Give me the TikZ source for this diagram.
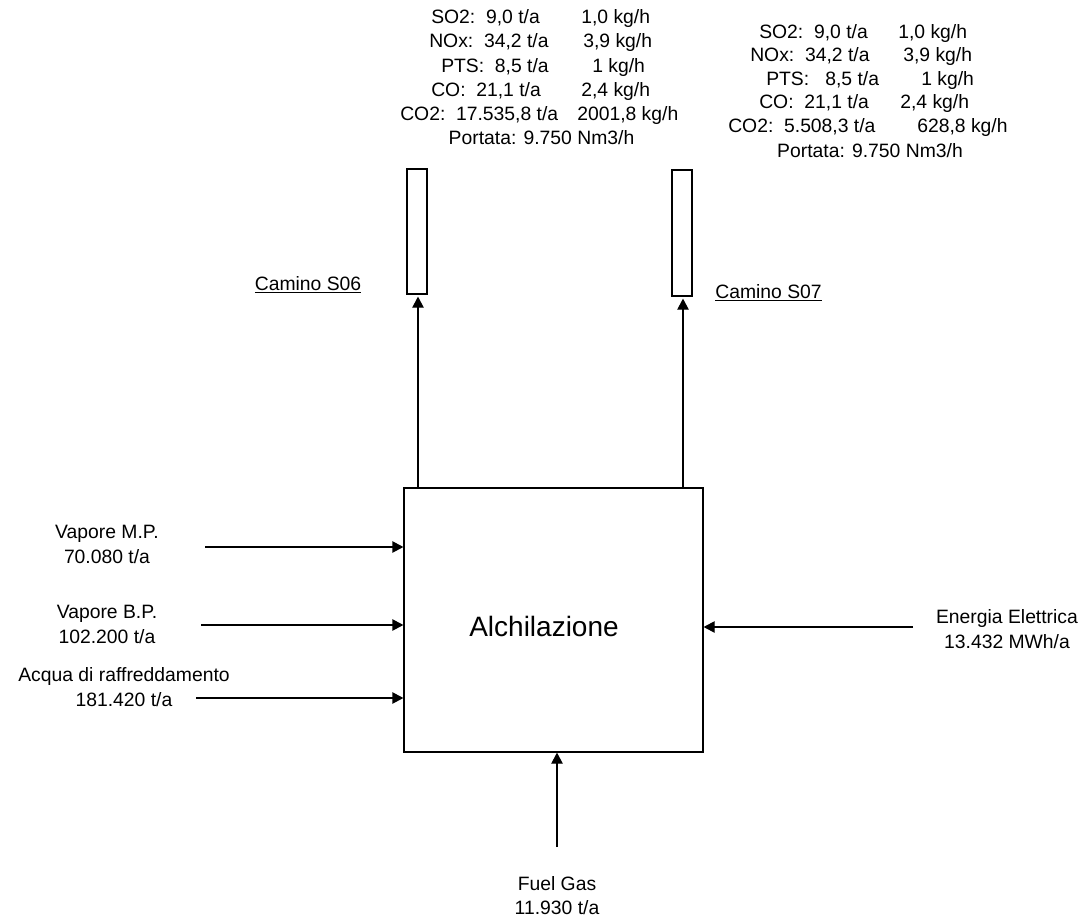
\documentclass[tikz,border=0pt]{standalone}
\usepackage{fontspec}
\setmainfont{Liberation Sans}
\usetikzlibrary{arrows.meta}
\begin{document}
\begin{tikzpicture}[x=0.75pt,y=-0.75pt,
  txt/.style={font=\fontsize{14.5}{18.2}\selectfont, inner sep=0pt},
  lw/.style={txt, anchor=base west},
  lc/.style={txt, anchor=base},
  boxst/.style={draw, line width=0.9pt, inner sep=0pt},
  arr/.style={line width=0.9pt, -{Triangle[length=8.25pt,width=8.5pt]}}]
\useasboundingbox (0,0) rectangle (1086,920);

% main box
\node[boxst, minimum width=224.25pt, minimum height=198pt] (alk) at (553.5,620) {};
\node[font=\fontsize{21}{25}\selectfont, inner sep=0pt] (alktxt) at (544,626) {Alchilazione};

% stacks
\node[boxst, minimum width=15pt, minimum height=93.75pt] (s06) at (417,231.5) {};
\node[boxst, minimum width=15pt, minimum height=94.5pt] (s07) at (682,233) {};
\node[txt] (c06) at (308,285) {\underline{Camino S06}};
\node[txt] (c07) at (768.5,293) {\underline{Camino S07}};

\coordinate (a06) at (418,488);
\coordinate (a07) at (683,488);
\draw[arr, shorten >=1.5pt] (a06) -- (a06 |- s06.south);
\draw[arr, shorten >=1.5pt] (a07) -- (a07 |- s07.south);

% emissions S06
\node[lw] (b1l1) at (431,24) {SO2:\ \ 9,0 t/a};
\node[lw] (b1r1) at (581,24) {1,0 kg/h};
\node[lw] (b1l2) at (429,48) {NOx:\ \ 34,2 t/a};
\node[lw] (b1r2) at (583,48) {3,9 kg/h};
\node[lw] (b1l3) at (441,73) {PTS:\ \ 8,5 t/a};
\node[lw] (b1r3) at (592,73) {1 kg/h};
\node[lw] (b1l4) at (431,97) {CO:\ \ 21,1 t/a};
\node[lw] (b1r4) at (581,97) {2,4 kg/h};
\node[lw] (b1l5) at (400,121) {CO2:\ \ 17.535,8 t/a};
\node[lw] (b1r5) at (577,121) {2001,8 kg/h};
\node[lc] (b1p) at (541.5,145) {Portata: 9.750 Nm3/h};

% emissions S07
\node[lw] (b2l1) at (759,39) {SO2:\ \ 9,0 t/a};
\node[lw] (b2r1) at (898,39) {1,0 kg/h};
\node[lw] (b2l2) at (750,62) {NOx:\ \ 34,2 t/a};
\node[lw] (b2r2) at (903,62) {3,9 kg/h};
\node[lw] (b2l3) at (766,86) {PTS:\ \ \ 8,5 t/a};
\node[lw] (b2r3) at (921,86) {1 kg/h};
\node[lw] (b2l4) at (759,109) {CO:\ \ 21,1 t/a};
\node[lw] (b2r4) at (900,109) {2,4 kg/h};
\node[lw] (b2l5) at (728,133) {CO2:\ \ 5.508,3 t/a};
\node[lw] (b2r5) at (917,133) {628,8 kg/h};
\node[lc] (b2p) at (870,158) {Portata: 9.750 Nm3/h};

% inputs left
\node[txt, align=center] (mp) at (107,544.5) {Vapore M.P.\\70.080 t/a};
\node[txt, align=center] (bp) at (107,624.5) {Vapore B.P.\\102.200 t/a};
\node[txt, align=center] (aq) at (124,687) {Acqua di raffreddamento\\181.420 t/a};
\coordinate (mpS) at (205,547);
\coordinate (bpS) at (201,625);
\coordinate (aqS) at (196,698);
\draw[arr] (mpS) -- (mpS -| alk.west);
\draw[arr] (bpS) -- (bpS -| alk.west);
\draw[arr] (aqS) -- (aqS -| alk.west);

% input right
\node[txt, align=center] (ee) at (1007,629) {Energia Elettrica\\13.432 MWh/a};
\coordinate (eeS) at (913,627);
\draw[arr] (eeS) -- (eeS -| alk.east);

% input bottom
\node[txt, align=center] (fg) at (557,895.5) {Fuel Gas\\11.930 t/a};
\coordinate (fgS) at (557,847);
\draw[arr] (fgS) -- (fgS |- alk.south);
\end{tikzpicture}
\end{document}
